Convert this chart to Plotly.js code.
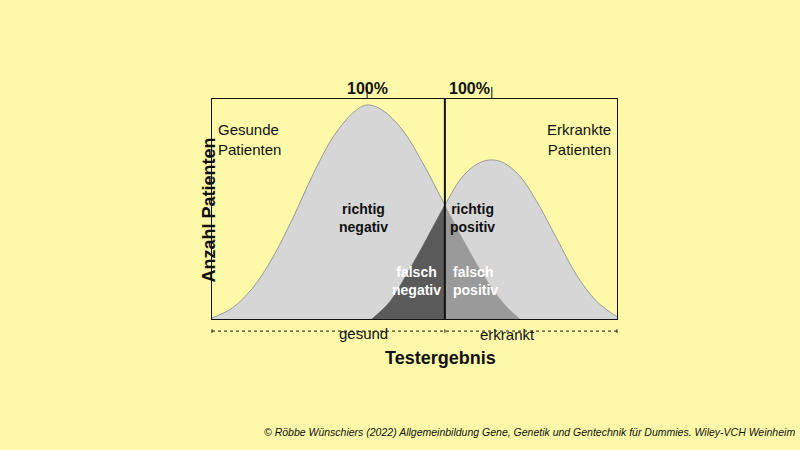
<!DOCTYPE html>
<html>
<head>
<meta charset="utf-8">
<script src="https://cdn.plot.ly/plotly-3.0.1.min.js"></script>
<style>body{margin:0;background:#fdf9a8;}</style>
</head>
<body>
<div id="chart" style="width:800px;height:450px;"></div>
<script>
// Curve points (test value vs. number of patients)
const healthyX = [0, 5, 10, 15, 20, 25, 30, 35, 38.3, 42, 47, 52, 57.5, 62, 67, 72, 76];
const healthyY = [0.5, 5, 14, 28, 46, 66, 83, 94, 97.3, 95, 86, 71, 51.8, 36, 20, 7, 0];
const sickX = [39.5, 44, 48, 52, 57.5, 62, 66, 69.1, 72, 76, 80, 85, 90, 95, 100];
const sickY = [0, 8, 20, 33, 51.8, 65, 71, 72.3, 71, 65, 54, 37, 20, 8, 1];
const cutoff = 57.5;
const peaks = [38.3, 69.1];

const font = 'Liberation Sans, Arial, sans-serif';

// Split a curve at the cut-off
const part = (xs, ys, keep) => {
  const idx = xs.map((x, i) => i).filter(i => keep(xs[i]));
  return { x: idx.map(i => xs[i]), y: idx.map(i => ys[i]) };
};
const sickLeft = part(sickX, sickY, x => x <= cutoff);
const healthyRight = part(healthyX, healthyY, x => x >= cutoff);

const traces = [
  { x: healthyX, y: healthyY, type: 'scatter', mode: 'lines', line: {color: '#9a9a9a', width: 1, shape: 'spline'}, fill: 'tozeroy', fillcolor: '#d6d6d6' },
  { x: sickX, y: sickY, type: 'scatter', mode: 'lines', line: {color: '#9a9a9a', width: 1, shape: 'spline'}, fill: 'tozeroy', fillcolor: '#d6d6d6' },
  { x: sickLeft.x, y: sickLeft.y, type: 'scatter', mode: 'lines', line: {color: '#5a5a5a', width: 0.5, shape: 'spline'}, fill: 'tozeroy', fillcolor: '#5a5a5a' },
  { x: healthyRight.x, y: healthyRight.y, type: 'scatter', mode: 'lines', line: {color: '#9a9a9a', width: 0.5, shape: 'spline'}, fill: 'tozeroy', fillcolor: '#9a9a9a' }
];

// Axis ranges are 0..100, so paper coords = value / 100
const ann = (text, x, y, opts = {}) => Object.assign({
  text, x: x / 100, y: y / 100, xref: 'paper', yref: 'paper', showarrow: false,
  font: {family: font, size: 14, color: '#111'}
}, opts);
const f = (size, color = '#111') => ({font: {family: font, size, color}});

const annotations = [
  ann('<b>richtig<br>negativ</b>', 37.5, 46, f(14)),
  ann('<b>richtig<br>positiv</b>', 70.4, 46, f(14)),
  ann('<b>falsch<br>negativ</b>', 50.6, 8.6, f(14, 'white')),
  ann('<b>falsch<br>positiv</b>', 59, 8.6, Object.assign({xanchor: 'left', align: 'left'}, f(14, 'white'))),
  ann('Gesunde<br>Patienten', 1, 91, Object.assign({xanchor: 'left', align: 'left'}, f(15))),
  ann('Erkrankte<br>Patienten', 99, 91, Object.assign({xanchor: 'right', align: 'right'}, f(15))),
  ...peaks.map(p => ann('<b>100%</b>', p, 109.5, f(16))),
  ann('gesund', 30.9, -11.4, f(15)),
  ann('erkrankt', 80.2, -11.8, f(15)),
  ann('<b>Testergebnis</b>', 56.5, -23.2, f(18)),
  ann('<b>Anzahl Patienten</b>', -3.6, 49.5, Object.assign({textangle: -90}, f(18))),
  ann('<i>© Röbbe Wünschiers (2022) Allgemeinbildung Gene, Genetik und Gentechnik für Dummies. Wiley-VCH Weinheim</i>',
      144.4, -55, Object.assign({xanchor: 'right'}, f(10.5)))
];

const line = (x0, y0, x1, y1, extra = {}) => Object.assign({
  type: 'line', xref: 'paper', yref: 'paper', x0: x0 / 100, y0: y0 / 100, x1: x1 / 100, y1: y1 / 100,
  line: {color: '#111', width: 1}
}, extra);

const shapes = [
  line(cutoff, 0, cutoff, 100, {line: {color: '#111', width: 2}}),
  line(0, -5.5, 100, -5.5, {line: {color: '#111', width: 1, dash: 'dot'}}),
  ...[0, cutoff, 100].map(x => line(x, -4.7, x, -6.3)),
  ...peaks.map(p => line(p, 100, p, 105.5))
];

const layout = {
  width: 800, height: 450,
  margin: {l: 212, r: 183, t: 99, b: 131},
  paper_bgcolor: '#fdf9a8', plot_bgcolor: '#fdf9a8',
  showlegend: false,
  xaxis: {range: [0, 100], showgrid: false, zeroline: false, showticklabels: false, ticks: '',
          showline: true, mirror: true, linecolor: '#111', linewidth: 1},
  yaxis: {range: [0, 100], showgrid: false, zeroline: false, showticklabels: false, ticks: '',
          showline: true, mirror: true, linecolor: '#111', linewidth: 1},
  annotations, shapes
};

Plotly.newPlot('chart', traces, layout, {displayModeBar: false, staticPlot: true});
</script>
</body>
</html>
